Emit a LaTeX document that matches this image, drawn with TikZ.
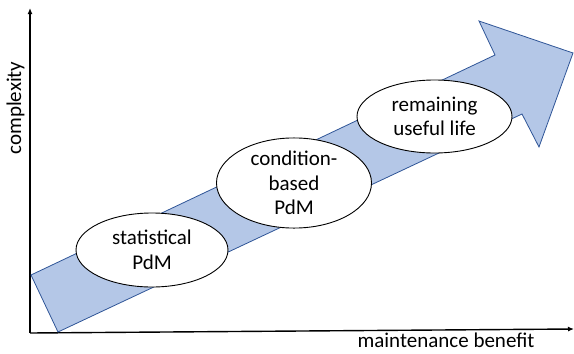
\documentclass[tikz,border=0pt]{standalone}
\usepackage{fontspec}
\setmainfont{Carlito}
\usepackage{tikz}
\usetikzlibrary{shapes.geometric,arrows.meta,positioning}
\definecolor{bandfill}{RGB}{180,199,231}
\definecolor{bandline}{RGB}{47,85,151}

\begin{document}
\begin{tikzpicture}[x=1pt, y=-1pt, every node/.style={font=\fontsize{21}{24.5}\selectfont},
		stage/.style={draw, ellipse, fill=white, line width=0.9pt, inner sep=0pt, align=center}]
			\useasboundingbox (0,0) rectangle (574,354);
			
			% axes
			\coordinate (o) at (30,333);
			\coordinate (ytop) at (30,8);
			\coordinate (xend) at (574,329);
			\draw[-{Latex[length=6pt, width=5pt]}, line width=1.4pt] (o) -- (ytop);
			\draw[-{Latex[length=6pt, width=5pt]}, line width=1.4pt] (o) -- (xend);
			\node[rotate=90, anchor=base] (ylab) at (21,108) {complexity};
			\node[anchor=base] (xlab) at (446,347) {maintenance benefit};
			
			% big arrow
			\draw[fill=bandfill, draw=bandline, line width=0.8pt]
				(31,275) -- (495,55) -- (479,21) -- (573,53) -- (539,147) -- (522,114) -- (58,332) -- cycle;
			
			\node[stage, minimum width=152pt, minimum height=74pt] (stat) at (152,250) {statistical\\PdM};
			\node[stage, minimum width=155pt, minimum height=77pt] (cond) at (294,183) {condition-\\based\\PdM};
			\node[stage, minimum width=155pt, minimum height=73pt] (rul) at (434.5,116.5) {remaining\\useful life};
		\end{tikzpicture}
\end{document}
